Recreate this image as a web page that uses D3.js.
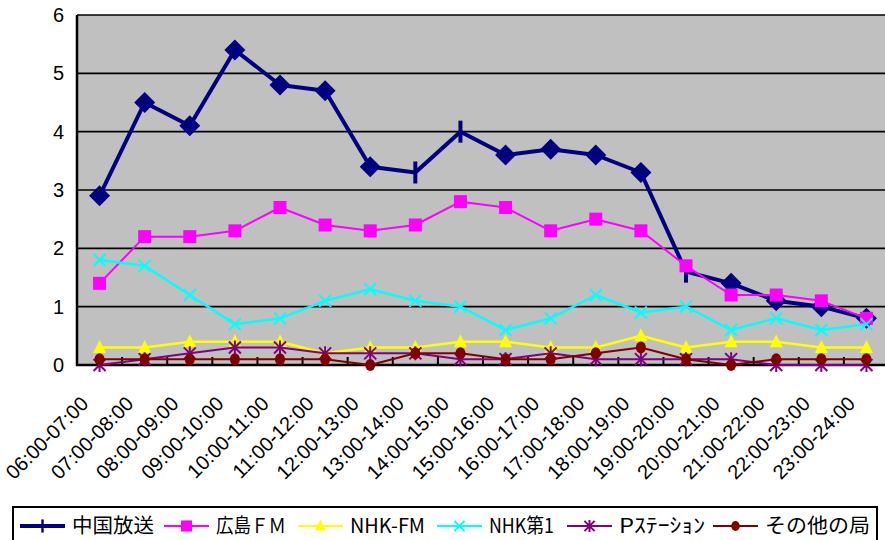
<!DOCTYPE html>
<html><head><meta charset="utf-8">
<script src="https://cdn.jsdelivr.net/npm/d3@7"></script>
<style>
html,body{margin:0;padding:0;background:#fff;}
svg{display:block;}
</style></head>
<body>
<svg id="chart" width="885" height="540"></svg>
<script>
// ---- data ----
const categories = ["06:00-07:00","07:00-08:00","08:00-09:00","09:00-10:00","10:00-11:00","11:00-12:00","12:00-13:00","13:00-14:00","14:00-15:00","15:00-16:00","16:00-17:00","17:00-18:00","18:00-19:00","19:00-20:00","20:00-21:00","21:00-22:00","22:00-23:00","23:00-24:00"];
const chugoku   = [2.9,4.5,4.1,5.4,4.8,4.7,3.4,3.3,4.0,3.6,3.7,3.6,3.3,1.6,1.4,1.1,1.0,0.8];
const hiroshimaFM = [1.4,2.2,2.2,2.3,2.7,2.4,2.3,2.4,2.8,2.7,2.3,2.5,2.3,1.7,1.2,1.2,1.1,0.8];
const nhkFM     = [0.3,0.3,0.4,0.4,0.4,0.2,0.3,0.3,0.4,0.4,0.3,0.3,0.5,0.3,0.4,0.4,0.3,0.3];
const nhk1      = [1.8,1.7,1.2,0.7,0.8,1.1,1.3,1.1,1.0,0.6,0.8,1.2,0.9,1.0,0.6,0.8,0.6,0.7];
const pStation  = [0.0,0.1,0.2,0.3,0.3,0.2,0.2,0.2,0.1,0.1,0.2,0.1,0.1,0.1,0.1,0.0,0.0,0.0];
const others    = [0.1,0.1,0.1,0.1,0.1,0.1,0.0,0.2,0.2,0.1,0.1,0.2,0.3,0.1,0.0,0.1,0.1,0.1];
const seriesNames = ["中国放送","広島ＦＭ","NHK-FM","NHK第1","Pｽﾃｰｼｮﾝ","その他の局"];
const yTicks = [0,1,2,3,4,5,6];
// points of 中国放送 drawn with the series' default "+" marker instead of a diamond
const chugokuPlainPoints = [7,8,13];

// ---- styles / layout ----
const colors = ["#000080","#FF00FF","#FFFF00","#00FFFF","#800080","#800000"];
const widths = [4,2,2.5,2.5,2,2];
const markers = ["diamond","square","triangle","x","star","circle"];
const legendLineX = [20,164,298,437,567,713];
const legendTextW = [82,70,75,65,86,105];
const plot = {left:77, right:889, top:15, bottom:365};

const allSeries = [chugoku,hiroshimaFM,nhkFM,nhk1,pStation,others];
const svg = d3.select("#chart");
const x = d3.scaleBand().domain(categories).range([plot.left, plot.right]);
const cx = d => x(d) + x.bandwidth()/2;
const y = d3.scaleLinear().domain([0,6]).range([plot.bottom, plot.top]);

// plot background
svg.append("rect").attr("x",plot.left).attr("y",plot.top)
  .attr("width",plot.right-plot.left).attr("height",plot.bottom-plot.top)
  .attr("fill","#C0C0C0");

// gridlines
svg.append("g").selectAll("line").data(yTicks.filter(t=>t>0)).join("line")
  .attr("x1",plot.left).attr("x2",plot.right)
  .attr("y1",d=>y(d)).attr("y2",d=>y(d))
  .attr("stroke","#000").attr("stroke-width",1.6);

// y axis labels
const yAxis = svg.append("g").attr("transform",`translate(${plot.left},0)`)
  .call(d3.axisLeft(y).tickValues(yTicks).tickFormat(d3.format("d")).tickSize(0).tickPadding(13));
yAxis.select(".domain").remove();
yAxis.selectAll("text").attr("font-family","'Liberation Sans', Arial, sans-serif")
  .attr("font-size",20).attr("fill","#000");

// axis lines
svg.append("line").attr("x1",plot.left).attr("x2",plot.left).attr("y1",plot.top).attr("y2",plot.bottom+1)
  .attr("stroke","#000").attr("stroke-width",2.5);
svg.append("line").attr("x1",plot.left-1).attr("x2",plot.right).attr("y1",plot.bottom).attr("y2",plot.bottom)
  .attr("stroke","#000").attr("stroke-width",2.5);

// boundary ticks
svg.append("g").selectAll("line").data(categories.slice(1)).join("line")
  .attr("x1",d=>x(d)).attr("x2",d=>x(d)).attr("y1",plot.bottom).attr("y2",plot.bottom-8)
  .attr("stroke","#000").attr("stroke-width",2);

// x axis labels
const xAxis = svg.append("g").attr("transform",`translate(0,${plot.bottom})`)
  .call(d3.axisBottom(x).tickSize(0));
xAxis.select(".domain").remove();
xAxis.selectAll("text")
  .attr("x",0).attr("y",0).attr("dy",0)
  .attr("transform","translate(-10,40) rotate(-45)")
  .style("text-anchor","end")
  .attr("font-family","'Liberation Sans', Arial, sans-serif")
  .attr("font-size",20).attr("fill","#000");

// marker drawing
function drawMarker(g, type, color, px, py, scale) {
  const s = scale || 1;
  if (type === "diamond") {
    const r = 10.5*s;
    g.append("path").attr("d",`M${px},${py-r}L${px+r},${py}L${px},${py+r}L${px-r},${py}Z`).attr("fill",color);
  } else if (type === "plus") {
    g.append("rect").attr("x",px-2*s).attr("y",py-11*s).attr("width",4*s).attr("height",22*s).attr("fill",color);
  } else if (type === "square") {
    const h = 6.5*s;
    g.append("rect").attr("x",px-h).attr("y",py-h).attr("width",2*h).attr("height",2*h).attr("fill",color);
  } else if (type === "triangle") {
    const h = 6.5*s;
    g.append("path").attr("d",`M${px},${py-h-1}L${px+h},${py+h-1}L${px-h},${py+h-1}Z`).attr("fill",color);
  } else if (type === "x") {
    const h = 6*s;
    g.append("path").attr("d",`M${px-h},${py-h}L${px+h},${py+h}M${px-h},${py+h}L${px+h},${py-h}`)
      .attr("stroke",color).attr("stroke-width",2).attr("fill","none");
  } else if (type === "star") {
    const h = 6*s;
    g.append("path").attr("d",`M${px-h},${py-h}L${px+h},${py+h}M${px-h},${py+h}L${px+h},${py-h}M${px},${py-h-1}L${px},${py+h+1}`)
      .attr("stroke",color).attr("stroke-width",2).attr("fill","none");
  } else if (type === "circle") {
    g.append("ellipse").attr("cx",px).attr("cy",py).attr("rx",5*s).attr("ry",6*s).attr("fill",color);
  }
}

// series
const line = d3.line().x((d,i)=>cx(categories[i])).y(d=>y(d));
allSeries.forEach((vals, si) => {
  const g = svg.append("g");
  g.append("path").datum(vals).attr("d",line).attr("fill","none")
    .attr("stroke",colors[si]).attr("stroke-width",widths[si]).attr("stroke-linejoin","round");
  vals.forEach((v,i) => {
    let type = markers[si];
    if (si === 0 && chugokuPlainPoints.includes(i)) type = "plus";
    drawMarker(g, type, colors[si], cx(categories[i]), y(v));
  });
});

// legend
const lg = svg.append("g");
lg.append("rect").attr("x",13).attr("y",507).attr("width",864).attr("height",45)
  .attr("fill","#fff").attr("stroke","#000").attr("stroke-width",2);
seriesNames.forEach((name, si) => {
  const lx = legendLineX[si], ly = 526;
  lg.append("line").attr("x1",lx).attr("x2",lx+45).attr("y1",ly).attr("y2",ly)
    .attr("stroke",colors[si]).attr("stroke-width",si===0?4:2);
  const mtype = si===0 ? "plus" : markers[si];
  drawMarker(lg, mtype, colors[si], lx+22.5, ly, si===0?0.6:0.85);
  lg.append("text").attr("x",lx+52).attr("y",524).attr("dominant-baseline","central")
    .attr("font-family","'Noto Sans CJK JP', 'Noto Sans', sans-serif").attr("font-size",20)
    .attr("textLength",legendTextW[si]).attr("lengthAdjust","spacingAndGlyphs")
    .attr("fill","#000").text(name);
});
</script>
</body></html>
